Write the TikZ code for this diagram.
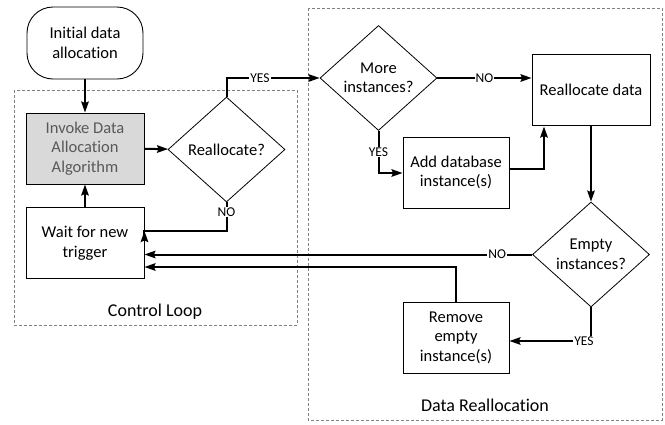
\documentclass[tikz,border=0pt]{standalone}
\usepackage{fontspec}
\setmainfont{Carlito}[Ligatures=NoCommon]
\usetikzlibrary{shapes.geometric,arrows.meta}
\definecolor{boxgray}{HTML}{D9D9D9}
\definecolor{textgray}{HTML}{595959}
\definecolor{framegray}{HTML}{808080}
\begin{document}
\begin{tikzpicture}[x=1pt,y=-1pt,
  font=\fontsize{16.5}{19.5}\selectfont,
  stepbox/.style={draw, line width=0.9pt, minimum width=118pt, minimum height=71pt, align=center, inner sep=2pt},
  smallbox/.style={draw, line width=0.9pt, minimum width=106pt, minimum height=71pt, align=center, inner sep=2pt},
  terminal/.style={draw, line width=0.9pt, rounded corners=26pt, minimum width=116pt, minimum height=72pt, align=center},
  decision/.style={draw, diamond, line width=0.8pt, minimum width=117pt, minimum height=105pt, align=center, inner sep=0pt},
  frame/.style={draw=framegray, line width=0.8pt, dash pattern=on 3pt off 2pt},
  flow/.style={line width=2pt, -{Stealth[length=11pt,width=7.5pt,inset=1.5pt]}},
  tag/.style={fill=white, inner sep=1pt, font=\fontsize{13.5}{15}\selectfont},
  caption/.style={font=\fontsize{18}{21}\selectfont}
]
\useasboundingbox (0,0) rectangle (665,424);

% group frames
\draw[frame] (14,90) rectangle (297,325);
\draw[frame] (308,8) rectangle (662,420);
\node[caption] (cl) at (155,312) {Control Loop};
\node[caption] (dr) at (485,405) {Data Reallocation};

% control loop
\node[terminal] (init) at (85,43) {Initial data\\allocation};
\node[stepbox, fill=boxgray, text=textgray] (invoke) at (85,148.5) {Invoke Data\\Allocation\\Algorithm};
\node[decision] (realloc) at (226.5,149.5) {Reallocate?};
\node[stepbox] (wait) at (85,243) {Wait for new\\trigger};

% data reallocation
\node[decision] (more) at (378.5,78) {More\\instances?};
\node[stepbox] (rdata) at (591,90) {Reallocate data};
\node[smallbox] (add) at (456,172.5) {Add database\\instance(s)};
\node[decision] (empty) at (591,254.5) {Empty\\instances?};
\node[smallbox] (remove) at (456,337.5) {Remove\\empty\\instance(s)};

% connectors
\draw[flow] (init) -- (invoke);
\draw[flow] (invoke) -- (realloc);
\draw[flow] (wait) -- (invoke);
\draw[flow] (realloc.north) |- (more.west) node[tag, pos=0.68] {YES};
\draw[flow] (realloc.south) -- ++(0,29) -| (wait.east |- 0,231) coordinate (w1);
\node[tag] (rno) at (226.5,212) {NO};
\draw[flow] (more.east) -- (rdata.west |- more.east) node[tag, midway] {NO};
\draw[flow] (more.south) |- (add.west |- 0,173);
\node[tag] (myes) at (378.5,152) {YES};
\draw[flow] (add.east |- 0,169) -| (544,126.5);
\draw[flow] (rdata.south) -- (empty.north);
\draw[flow] (empty.west) -- (wait.east |- empty.west) node[tag, pos=0.09] {NO};
\draw[flow] (empty.south) |- (remove.east |- 0,341);
\node[tag] (eyes) at (584,341) {YES};
\draw[flow] (remove.north) |- (wait.east |- 0,267);
\end{tikzpicture}
\end{document}
